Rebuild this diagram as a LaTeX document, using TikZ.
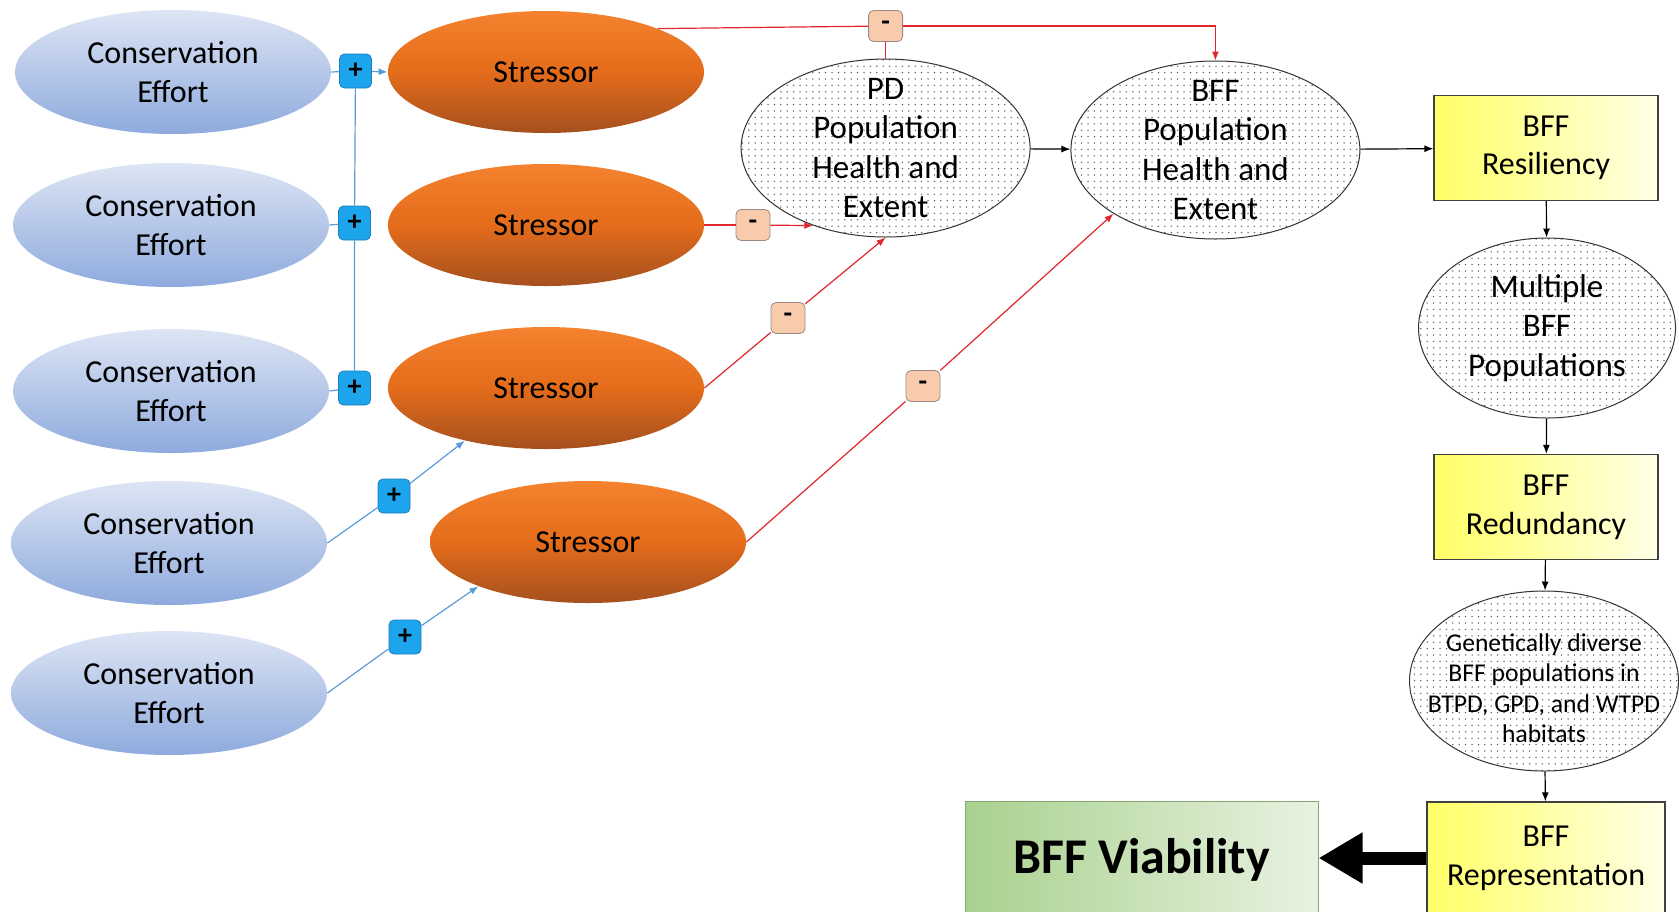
\documentclass[tikz,border=0pt]{standalone}
\usepackage{fontspec}
\setmainfont{Carlito}
\usepackage{tikz}
\usetikzlibrary{shapes.geometric,arrows.meta,patterns.meta,positioning}
\definecolor{ceTop}{HTML}{DDE5F4}
\definecolor{ceBot}{HTML}{8EAADD}
\definecolor{stTop}{HTML}{F4822F}
\definecolor{stMid}{HTML}{E46C1B}
\definecolor{stBot}{HTML}{A5501E}
\definecolor{plusFill}{HTML}{1CA4EC}
\definecolor{plusLine}{HTML}{1A7DBE}
\definecolor{minusFill}{HTML}{F8CBAD}
\definecolor{minusLine}{HTML}{9A8A80}
\definecolor{posLine}{HTML}{5B9BD5}
\definecolor{negLine}{HTML}{E0262C}
\definecolor{yelLeft}{HTML}{FFFF66}
\definecolor{yelRight}{HTML}{FFFFE6}
\definecolor{grnLeft}{HTML}{A9D18E}
\definecolor{grnRight}{HTML}{E8F2E1}
\tikzset{
  effort/.style={ellipse, minimum width=158pt, minimum height=62pt, inner sep=0pt,
    top color=ceTop, bottom color=ceBot, align=center, font=\fontsize{16}{19.3}\selectfont},
  stressor/.style={ellipse, minimum width=158pt, minimum height=61pt, inner sep=0pt,
    top color=stTop, bottom color=stBot, middle color=stMid, font=\fontsize{16}{19.3}\selectfont},
  dotell/.style={ellipse, draw=black!80, line width=0.5pt, inner sep=0pt,
    pattern={Dots[distance=3.2pt,radius=0.38pt]}, pattern color=black!65},
  bigtext/.style={align=center, font=\fontsize{16.5}{19.6}\selectfont},
  smalltext/.style={align=center, font=\fontsize{12.8}{15.2}\selectfont},
  yelbox/.style={rectangle, draw=black!75, line width=0.6pt, minimum width=112pt, minimum height=52.5pt,
    inner sep=0pt, left color=yelLeft, right color=yelRight, align=center, font=\fontsize{16}{19.3}\selectfont},
  plusbox/.style={rectangle, rounded corners=2.5pt, draw=plusLine, fill=plusFill, minimum width=16pt,
    minimum height=17pt, inner sep=0pt, font=\bfseries\fontsize{14}{14}\selectfont},
  minusbox/.style={rectangle, rounded corners=2.5pt, draw=minusLine, fill=minusFill, minimum width=17pt,
    minimum height=15.5pt, inner sep=0pt, font=\bfseries\fontsize{14}{14}\selectfont},
  poslink/.style={draw=posLine, line width=0.6pt},
  posarr/.style={poslink, -{Latex[length=4.5pt,width=3.5pt]}},
  neglink/.style={draw=negLine, line width=0.6pt},
  negarr/.style={neglink, -{Latex[length=4.5pt,width=3.5pt]}},
  flow/.style={black, line width=0.6pt, -{Latex[length=4.5pt,width=3.5pt]}}
}
\begin{document}
\begin{tikzpicture}[x=0.5pt,y=-0.5pt]
\useasboundingbox (0,0) rectangle (1679,911);

% conservation efforts
\foreach \i/\x/\y in {1/173/72,2/171/225,3/171/391,4/169/543,5/169/693}
  \node[effort] (ce\i) at (\x,\y) {Conservation\\Effort};

% stressors
\node[stressor] (st1) at (546,72) {Stressor};
\node[stressor] (st2) at (546,225) {Stressor};
\node[stressor] (st3) at (546,388) {Stressor};
\node[stressor] (st4) at (588,542) {Stressor};

\node[plusbox] (p1) at (355.5,71) {+};
\node[plusbox] (p2) at (354.5,223) {+};
\node[plusbox] (p3) at (354.5,388) {+};
\node[plusbox] (p4) at (394,496) {+};
\node[plusbox] (p5) at (405,637) {+};

% population nodes
\node[dotell, minimum width=144.5pt, minimum height=89pt] (pd) at (885.6,148) {};
\node[bigtext] (pdtxt) at (pd) {PD\\Population\\Health and\\Extent};
\node[dotell, minimum width=144.5pt, minimum height=89pt] (bff) at (1215.4,150) {};
\node[bigtext] (bfftxt) at (bff) {BFF\\Population\\Health and\\Extent};

\node[minusbox] (m1) at (885.6,26) {-};
\node[minusbox] (m2) at (753,225) {-};
\node[minusbox] (m3) at (788,318) {-};
\node[minusbox] (m4) at (923,386) {-};

% right column
\node[yelbox] (res) at (1546,148) {BFF\\Resiliency};
\node[dotell, minimum width=128.5pt, minimum height=90pt] (mult) at (1547,328) {};
\node[bigtext] (multtxt) at (mult) {Multiple\\BFF\\Populations};
\node[yelbox] (red) at (1546,507) {BFF\\Redundancy};
\node[dotell, minimum width=134.5pt, minimum height=90pt] (gen) at (1544,681) {};
\node[smalltext] (gentxt) at (1544,688) {Genetically diverse\\BFF populations in\\BTPD, GPD, and WTPD\\habitats};
\node[yelbox, minimum width=119pt, minimum height=56pt] (rep) at (1546,858) {BFF\\Representation};
\node[rectangle, draw=grnLeft!80!black, line width=0.5pt, left color=grnLeft, right color=grnRight,
  minimum width=176.5pt, minimum height=59pt, font=\bfseries\fontsize{25}{30}\selectfont] (via) at (1141.5,860) {BFF Viability};

% positive links
\draw[poslink] (ce1.east) -- (p1);
\draw[posarr] (p1) -- (st1.west);
\draw[poslink] (p1) -- (p2) -- (p3);
\draw[poslink] (ce2.east) -- (p2);
\draw[poslink] (ce3.east) -- (p3);
\draw[poslink] (ce4.east) -- (p4);
\draw[posarr] (p4) -- (st3.213);
\draw[poslink] (ce5.east) -- (p5);
\draw[posarr] (p5) -- (st4.202);

% negative links
\draw[neglink] (st1.north east) -- (m1);
\draw[neglink] (m1) -- (pd);
\draw[negarr] (m1) -| (bff);
\draw[neglink] (st2.east) -- (m2);
\draw[negarr] (m2) -- (pd.227);
\draw[neglink] (st3.east) -- (m3);
\draw[negarr] (m3) -- (pd.south);
\draw[neglink] (st4.east) -- (m4);
\draw[negarr] (m4) -- (bff.212);

\draw[flow] (pd) -- (bff);
\draw[flow] (bff) -- (res);
\draw[flow] (res) -- (mult);
\draw[flow] (mult) -- (red);
\draw[flow] (red) -- (gen);
\draw[flow] (gen) -- (rep);
\draw[line width=6.5pt, -{Triangle[length=22pt,width=24pt]}] (rep.west) -- (rep.west -| via.east);
\end{tikzpicture}
\end{document}
